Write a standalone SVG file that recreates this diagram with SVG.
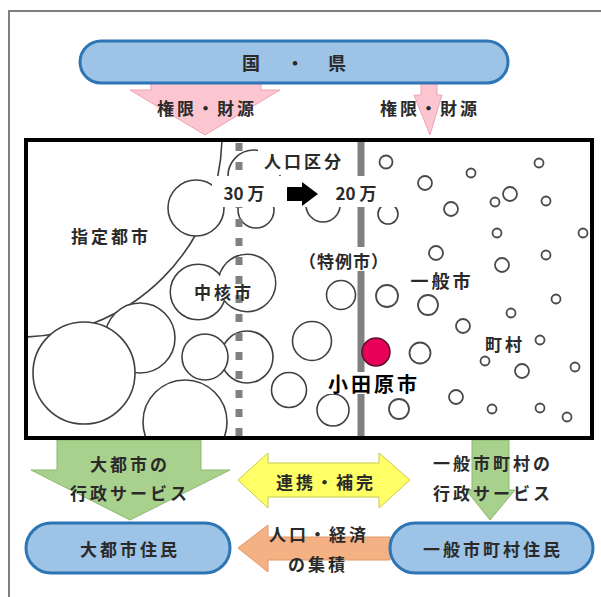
<svg xmlns="http://www.w3.org/2000/svg" width="601" height="597" viewBox="0 0 601 597">
<style>
.t{font-family:"Noto Sans CJK JP","Noto Sans",sans-serif;font-weight:bold;fill:#2a2a2a;text-anchor:middle;dominant-baseline:central;font-size:17px;letter-spacing:3px}
.c{fill:#fff;stroke:#404040;stroke-width:1.6}
.s{fill:#fff;stroke:#4a4a4a;stroke-width:1.8}
.pill{fill:#9DC3E6;stroke:#2E75B6;stroke-width:3}
.bg{fill:#fff}
.pink{fill:#FBC6D0;stroke:#F2A2B4;stroke-width:1}
.green{fill:#A9D18E;stroke:#8AB86C;stroke-width:1}
</style>
<defs><clipPath id="box"><rect x="28" y="142" width="562" height="294"/></clipPath></defs>
<rect width="601" height="597" fill="#fff"/>
<path d="M9,597 V11 H601" fill="none" stroke="#7f7f7f" stroke-width="2"/>

<g id="connectors">
<polygon class="pink" points="151,83 261,83 261,90 280,90 205,135 130,90 151,90"/>
<polygon class="pink" points="421,83 437,83 437,95 442,95 430,135 414,95 421,95"/>
<polygon class="green" points="57,440 201,440 201,470 230,470 130,520 31,470 57,470"/>
<polygon class="green" points="472,440 509,440 509,490 515,490 490,520 466,490 472,490"/>
<polygon fill="#FFFF66" stroke="#C9C94C" stroke-width="1" points="238,480 268,453 268,463 379,463 379,453 410,480 379,508 379,497 268,497 268,508"/>
<polygon fill="#F4B183" stroke="#E39868" stroke-width="1" points="238,548 268,525 268,537 390,537 390,560 268,560 268,572"/>
</g>

<g id="kuni-ken">
<rect class="pill" x="80" y="41" width="428" height="42" rx="21"/>
<text class="t" x="251" y="62" style="font-size:18px;letter-spacing:0">国</text>
<text class="t" x="295" y="62" style="font-size:18px;letter-spacing:0">・</text>
<text class="t" x="337" y="62" style="font-size:18px;letter-spacing:0">県</text>
</g>

<g id="label-kengen-left"><text class="t" x="207" y="107">権限・財源</text></g>
<g id="label-kengen-right"><text class="t" x="430" y="107">権限・財源</text></g>

<g id="city-map">
<rect x="26" y="140" width="566" height="298" fill="#fff" stroke="#000" stroke-width="4"/>
<g clip-path="url(#box)">
<circle cx="20" cy="135" r="202" fill="none" stroke="#404040" stroke-width="1.6"/>
<circle class="c" cx="254" cy="176" r="26"/>
<circle class="c" cx="196" cy="208" r="28"/>
<circle class="c" cx="256" cy="210" r="18"/>
<circle class="c" cx="323" cy="205" r="17"/>
<circle class="c" cx="388" cy="214" r="10"/>
<circle class="c" cx="140" cy="338" r="35"/>
<circle class="c" cx="84" cy="373" r="51"/>
<circle class="c" cx="185" cy="422" r="42"/>
<circle class="c" cx="198" cy="292" r="27" style="stroke-width:3"/>
<circle class="c" cx="247" cy="283" r="28" style="stroke-width:3"/>
<circle cx="198" cy="292" r="27" fill="#fff"/>
<circle cx="247" cy="283" r="28" fill="#fff"/>
<circle class="c" cx="247" cy="357" r="26"/>
<circle class="c" cx="205" cy="357" r="23"/>
<circle class="c" cx="289" cy="390" r="17.5"/>
<circle class="c" cx="312" cy="341" r="19.5"/>
<circle class="c" cx="341" cy="295" r="14.5"/>
<circle class="c" cx="333" cy="410" r="16"/>
<circle class="s" cx="386" cy="162" r="6.5"/>
<circle class="s" cx="425" cy="183" r="7"/>
<circle class="s" cx="471" cy="173" r="4.5"/>
<circle class="s" cx="539" cy="163" r="4.5"/>
<circle class="s" cx="510" cy="194" r="7"/>
<circle class="s" cx="495" cy="202" r="4.5"/>
<circle class="s" cx="546" cy="201" r="4.5"/>
<circle class="s" cx="451" cy="209" r="7"/>
<circle class="s" cx="497" cy="233" r="4.5"/>
<circle class="s" cx="583" cy="233" r="4.5"/>
<circle class="s" cx="436" cy="253" r="7"/>
<circle class="s" cx="546" cy="255" r="4.5"/>
<circle class="s" cx="502" cy="265" r="7"/>
<circle class="s" cx="387" cy="296" r="11"/>
<circle class="s" cx="428" cy="305" r="10"/>
<circle class="s" cx="463" cy="326" r="7"/>
<circle class="s" cx="420" cy="353" r="10.5"/>
<circle class="s" cx="511" cy="313" r="4.5"/>
<circle class="s" cx="556" cy="299" r="4.5"/>
<circle class="s" cx="540" cy="340" r="4.5"/>
<circle class="s" cx="485" cy="361" r="4.5"/>
<circle class="s" cx="522" cy="371" r="7"/>
<circle class="s" cx="575" cy="367" r="4.5"/>
<circle class="s" cx="456" cy="397" r="7"/>
<circle class="s" cx="492" cy="409" r="4.5"/>
<circle class="s" cx="540" cy="408" r="4.5"/>
<circle class="s" cx="567" cy="417" r="4.5"/>
<circle class="s" cx="399" cy="409" r="10"/>
<line x1="239" y1="143" x2="239" y2="436" stroke="#808080" stroke-width="7" stroke-dasharray="8 11"/>
<line x1="361" y1="142" x2="361" y2="436" stroke="#808080" stroke-width="7"/>
</g>
</g>

<g id="label-jinko-kubun">
<rect class="bg" x="258" y="145" width="90" height="30"/>
<text class="t" x="304" y="160">人口区分</text>
</g>
<g id="label-threshold">
<rect class="bg" x="212" y="176" width="186" height="31"/>
<text class="t" x="244" y="192" style="letter-spacing:0">30 万</text>
<polygon fill="#000" points="287,187 302,187 302,182 318,194 302,206 302,201 287,201"/>
<text class="t" x="356" y="192" style="letter-spacing:0">20 万</text>
</g>
<g id="label-shitei"><text class="t" x="111" y="235">指定都市</text></g>
<g id="label-chukaku"><text class="t" x="224" y="291">中核市</text></g>
<g id="label-tokurei">
<rect class="bg" x="298" y="247" width="94" height="24"/>
<text class="t" x="344" y="260" style="letter-spacing:1px">（特例市）</text>
</g>
<g id="label-ippan"><text class="t" x="442" y="280" style="font-size:18px">一般市</text></g>
<g id="label-chouson"><text class="t" x="505" y="343">町村</text></g>
<g id="odawara">
<circle cx="376" cy="352" r="14" fill="#E8005B" stroke="#5a1030" stroke-width="1.5"/>
<rect class="bg" x="325" y="372" width="96" height="22"/>
<text class="t" x="374" y="383" style="font-size:20px;fill:#000">小田原市</text>
</g>

<g id="label-dai-service">
<text class="t" x="130" y="463">大都市の</text>
<text class="t" x="130" y="492">行政サービス</text>
</g>
<g id="label-renkei"><text class="t" x="326" y="481">連携・補完</text></g>
<g id="label-ippan-service">
<text class="t" x="493" y="462">一般市町村の</text>
<text class="t" x="493" y="492">行政サービス</text>
</g>
<g id="label-shuseki">
<text class="t" x="319" y="533">人口・経済</text>
<text class="t" x="318" y="563">の集積</text>
</g>

<g id="dai-jumin">
<rect class="pill" x="26" y="523" width="204" height="50" rx="25"/>
<text class="t" x="130" y="548">大都市住民</text>
</g>
<g id="ippan-jumin">
<rect class="pill" x="390" y="523" width="203" height="50" rx="25"/>
<text class="t" x="493" y="548">一般市町村住民</text>
</g>
</svg>
